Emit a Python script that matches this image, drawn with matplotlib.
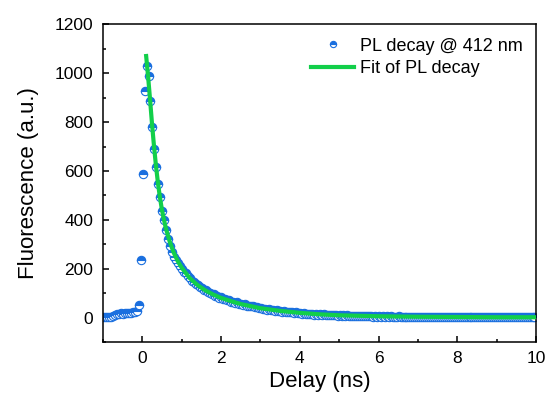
import numpy as np
import matplotlib
matplotlib.use("Agg")
import matplotlib.pyplot as plt
from matplotlib.ticker import MultipleLocator

plt.rcParams['font.family'] = ['Liberation Sans', 'DejaVu Sans']

# ---- data ----
t_start = -0.99
t_step = 0.05
pl_counts = [
    2, 1, 3, 2, 4, 7, 11, 14, 17, 18, 17, 19, 20, 19, 21, 22, 24, 29,
    53, 236, 588, 925, 1030, 987, 888, 778, 688, 615, 546, 492, 438, 398, 358, 322, 292, 270, 250, 236, 222, 210,
    201, 189, 182, 169, 163, 151, 148, 137, 134, 124, 122, 114, 113, 104, 103, 96, 95, 89, 88, 82,
    83, 76, 77, 71, 72, 65, 66, 61, 63, 57, 58, 53, 55, 49, 50, 47, 47, 43, 44, 40,
    39, 35, 36, 32, 34, 30, 32, 28, 30, 26, 28, 25, 26, 23, 25, 22, 23, 20, 22, 19,
    20, 17, 18, 15, 17, 14, 16, 13, 15, 12, 15, 12, 14, 11, 13, 10, 12, 10, 12, 9,
    11, 9, 10, 8, 10, 8, 9, 7, 9, 7, 9, 6, 8, 6, 8, 6, 7, 5, 7, 5,
    7, 5, 6, 4, 6, 4, 6, 4, 5, 4, 6, 3, 5, 3, 5, 4, 5, 3, 5, 3,
    5, 3, 4, 3, 5, 2, 4, 3, 4, 2, 4, 3, 4, 2, 4, 2, 4, 3, 4, 2,
    4, 2, 3, 2, 4, 2, 3, 2, 4, 1, 3, 2, 3, 2, 3, 1, 3, 2, 3, 1,
    3, 2, 3, 1, 3, 2, 3, 1, 3, 2, 3, 1, 3, 2, 2, 1, 3, 2, 2, 1,
]
delay = np.round(t_start + t_step * np.arange(len(pl_counts)), 3)

fit_delay = [0.10, 0.15, 0.20, 0.25, 0.30, 0.35, 0.40, 0.45, 0.50, 0.55, 0.60, 0.70, 0.80, 0.90,
             1.0, 1.2, 1.4, 1.6, 1.8, 2.0, 2.25, 2.5, 3.0, 3.5, 4.0, 4.5, 5.0, 6.0, 7.0, 8.0, 9.0, 10.0]
fit_values = [1070, 985, 890, 790, 700, 620, 550, 492, 442, 402, 366, 310, 266, 232,
              205, 163, 134, 112, 95, 81, 68, 56, 39, 28, 20, 14, 10, 6, 4, 3, 2, 2]

x_ticks = [0, 2, 4, 6, 8, 10]
y_ticks = [0, 200, 400, 600, 800, 1000, 1200]

blue = '#1a6fdf'
green = '#12cf4a'

# ---- figure ----
fig = plt.figure(figsize=(5.47, 4.04), dpi=100)
ax = fig.add_axes([0.188, 0.153, 0.792, 0.787])

ax.plot(delay, pl_counts, linestyle='none', marker='o', markersize=6.0,
        fillstyle='top', markerfacecolor=blue, markerfacecoloralt='white',
        markeredgecolor=blue, markeredgewidth=0.8, label='PL decay @ 412 nm', zorder=2)
ax.plot(fit_delay, fit_values, color=green, linewidth=3.0, label='Fit of PL decay', zorder=3)

ax.set_xlim(-1, 10)
ax.set_ylim(-100, 1200)
ax.set_xticks(x_ticks)
ax.set_yticks(y_ticks)
ax.xaxis.set_minor_locator(MultipleLocator(1))
ax.yaxis.set_minor_locator(MultipleLocator(100))

ax.tick_params(which='both', direction='in', top=False, right=False, labelsize=12.5, width=1.1)
ax.tick_params(axis='x', which='major', pad=6)
ax.tick_params(axis='y', which='major', pad=7)
ax.tick_params(which='major', length=4)
ax.tick_params(which='minor', length=2.5)
for s in ax.spines.values():
    s.set_linewidth(1.1)

ax.set_xlabel('Delay (ns)', fontsize=16, labelpad=4)
ax.set_ylabel('Fluorescence (a.u.)', fontsize=16, labelpad=11)

leg = ax.legend(loc='upper right', frameon=False, fontsize=13, handlelength=2.4,
                handletextpad=0.3, markerscale=0.75, borderaxespad=0.35, labelspacing=0.3)

fig.savefig('out.png', dpi=100)
